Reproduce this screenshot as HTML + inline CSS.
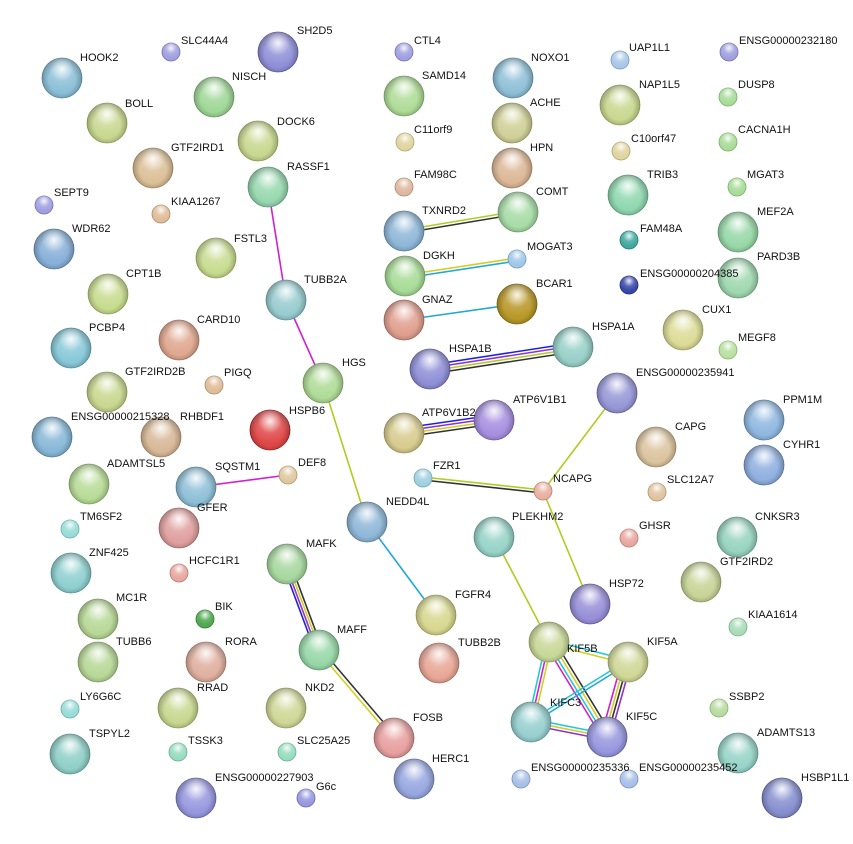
<!DOCTYPE html>
<html><head><meta charset="utf-8"><style>
html,body{margin:0;padding:0;background:#fff;}
svg{display:block;}
text{font-family:"Liberation Sans",sans-serif;font-size:11px;fill:#111;}
</style></head><body>
<svg width="853" height="844" viewBox="0 0 853 844" xmlns="http://www.w3.org/2000/svg">
<defs>
<radialGradient id="gl" cx="50%" cy="28%" r="55%"><stop offset="0" stop-color="#fff" stop-opacity="0.9"/><stop offset="0.55" stop-color="#fff" stop-opacity="0.15"/><stop offset="1" stop-color="#fff" stop-opacity="0"/></radialGradient>
<radialGradient id="sh" cx="50%" cy="55%" r="55%"><stop offset="0.6" stop-color="#000" stop-opacity="0"/><stop offset="1" stop-color="#000" stop-opacity="0.3"/></radialGradient>
</defs>
<!-- edges -->
<g fill="none" stroke-width="1.6">
<line x1="268" y1="187" x2="286" y2="300" stroke="#d020d0"/>
<line x1="286" y1="300" x2="323" y2="383" stroke="#d020d0"/>
<line x1="323" y1="383" x2="367" y2="522" stroke="#b0cc20"/>
<line x1="367" y1="522" x2="436" y2="615" stroke="#20a8d8"/>
<line x1="196" y1="487" x2="288" y2="475" stroke="#d020d0"/>
<line x1="404" y1="230" x2="518" y2="211" stroke="#b0cc20"/>
<line x1="404" y1="233" x2="518" y2="214" stroke="#333"/>
<line x1="405" y1="275" x2="517" y2="258" stroke="#d0d020"/>
<line x1="405" y1="278" x2="517" y2="261" stroke="#20a8d8"/>
<line x1="404" y1="320" x2="517" y2="304" stroke="#20a8d8"/>
<line x1="430" y1="365" x2="573" y2="343" stroke="#2020e0"/>
<line x1="430" y1="368" x2="573" y2="346" stroke="#9030d0"/>
<line x1="430" y1="371" x2="573" y2="349" stroke="#b0cc20"/>
<line x1="430" y1="374" x2="573" y2="352" stroke="#333"/>
<line x1="404" y1="428" x2="494" y2="415" stroke="#2020e0"/>
<line x1="404" y1="431" x2="494" y2="418" stroke="#9030d0"/>
<line x1="404" y1="434" x2="494" y2="421" stroke="#d0d020"/>
<line x1="404" y1="437" x2="494" y2="424" stroke="#333"/>
<line x1="423" y1="477" x2="543" y2="490" stroke="#b0cc20"/>
<line x1="423" y1="480" x2="543" y2="493" stroke="#333"/>
<line x1="543" y1="491" x2="617" y2="393" stroke="#b0cc20"/>
<line x1="543" y1="491" x2="590" y2="604" stroke="#b0cc20"/>
<line x1="494" y1="537" x2="549" y2="642" stroke="#b0cc20"/>
<line x1="283" y1="565" x2="315" y2="651" stroke="#2020e0"/>
<line x1="285.5" y1="564.5" x2="317.5" y2="650.5" stroke="#9030d0"/>
<line x1="288" y1="564" x2="320" y2="650" stroke="#d0d020"/>
<line x1="290.5" y1="563.5" x2="322.5" y2="649.5" stroke="#333"/>
<line x1="318" y1="651" x2="393" y2="739" stroke="#d0d020"/>
<line x1="321" y1="649" x2="396" y2="737" stroke="#333"/>
<!-- KIF cluster -->
<line x1="549" y1="640" x2="628" y2="660" stroke="#20c8d8"/>
<line x1="549" y1="644" x2="628" y2="664" stroke="#d0d020"/>
<line x1="546" y1="642" x2="528" y2="722" stroke="#20c8d8"/>
<line x1="549" y1="642" x2="531" y2="722" stroke="#d020d0"/>
<line x1="552" y1="642" x2="534" y2="722" stroke="#d0d020"/>
<line x1="545" y1="644" x2="603" y2="739" stroke="#d020d0"/>
<line x1="548" y1="643" x2="606" y2="738" stroke="#20c8d8"/>
<line x1="551" y1="641" x2="609" y2="736" stroke="#d0d020"/>
<line x1="554" y1="640" x2="612" y2="735" stroke="#333"/>
<line x1="622" y1="661" x2="601" y2="736" stroke="#d020d0"/>
<line x1="625" y1="662" x2="604" y2="737" stroke="#d0d020"/>
<line x1="628" y1="662" x2="607" y2="737" stroke="#333"/>
<line x1="631" y1="663" x2="610" y2="738" stroke="#9030d0"/>
<line x1="628" y1="660" x2="531" y2="720" stroke="#20c8d8"/>
<line x1="628" y1="664" x2="531" y2="724" stroke="#20a8d8"/>
<line x1="531" y1="719" x2="607" y2="734" stroke="#20c8d8"/>
<line x1="531" y1="722" x2="607" y2="737" stroke="#d0d020"/>
<line x1="531" y1="725" x2="607" y2="740" stroke="#9030d0"/>
</g>
<!-- nodes -->
<g stroke-width="0.8">
<circle cx="62" cy="78" r="20" fill="#8cc0d8" stroke="#6090a8"/>
<circle cx="171" cy="52" r="9" fill="#a0a0e0" stroke="#7070b0"/>
<circle cx="278" cy="52" r="20" fill="#9090d8" stroke="#6060a8"/>
<circle cx="214" cy="97" r="20" fill="#a0d898" stroke="#70a868"/>
<circle cx="107" cy="123" r="20" fill="#c8d890" stroke="#98a860"/>
<circle cx="258" cy="141" r="20" fill="#c8d890" stroke="#98a860"/>
<circle cx="153" cy="168" r="20" fill="#dcc098" stroke="#a89068"/>
<circle cx="44" cy="205" r="9" fill="#a0a0e0" stroke="#7070b0"/>
<circle cx="161" cy="214" r="9" fill="#e0bc98" stroke="#a88c68"/>
<circle cx="268" cy="187" r="20" fill="#98d8b0" stroke="#68a880"/>
<circle cx="54" cy="249" r="20" fill="#88b0d8" stroke="#5880a8"/>
<circle cx="216" cy="258" r="20" fill="#c8dc90" stroke="#98ac60"/>
<circle cx="108" cy="294" r="20" fill="#c8dc90" stroke="#98ac60"/>
<circle cx="286" cy="300" r="20" fill="#98ccd0" stroke="#689ca0"/>
<circle cx="179" cy="340" r="20" fill="#e0a890" stroke="#b07860"/>
<circle cx="71" cy="348" r="20" fill="#88c8d8" stroke="#5898a8"/>
<circle cx="107" cy="392" r="20" fill="#c8d890" stroke="#98a860"/>
<circle cx="214" cy="385" r="9" fill="#e0bc98" stroke="#a88c68"/>
<circle cx="323" cy="383" r="20" fill="#b0dc98" stroke="#80ac68"/>
<circle cx="270" cy="430" r="20" fill="#e04848" stroke="#a02020"/>
<circle cx="161" cy="437" r="20" fill="#d8b898" stroke="#a88868"/>
<circle cx="52" cy="437" r="20" fill="#88b8d8" stroke="#5888a8"/>
<circle cx="89" cy="484" r="20" fill="#b8dc98" stroke="#88ac68"/>
<circle cx="196" cy="487" r="20" fill="#90c0d8" stroke="#6090a8"/>
<circle cx="288" cy="475" r="9" fill="#e0c8a0" stroke="#a89870"/>
<circle cx="70" cy="529" r="9" fill="#98dcd8" stroke="#68aca8"/>
<circle cx="179" cy="528" r="20" fill="#e0a0a0" stroke="#b07070"/>
<circle cx="367" cy="522" r="20" fill="#90b8d8" stroke="#6088a8"/>
<circle cx="71" cy="573" r="20" fill="#90d0d0" stroke="#60a0a0"/>
<circle cx="179" cy="573" r="9" fill="#e8a8a0" stroke="#b07870"/>
<circle cx="287" cy="564" r="20" fill="#a8d8a0" stroke="#78a870"/>
<circle cx="98" cy="619" r="20" fill="#b8d898" stroke="#88a868"/>
<circle cx="205" cy="619" r="9" fill="#50a850" stroke="#307830"/>
<circle cx="436" cy="615" r="20" fill="#d8d890" stroke="#a8a860"/>
<circle cx="98" cy="662" r="20" fill="#b8d898" stroke="#88a868"/>
<circle cx="206" cy="662" r="20" fill="#e0b0a0" stroke="#b08070"/>
<circle cx="319" cy="650" r="20" fill="#98d8a8" stroke="#68a878"/>
<circle cx="439" cy="663" r="20" fill="#e8a898" stroke="#b87868"/>
<circle cx="70" cy="709" r="9" fill="#98dcd8" stroke="#68aca8"/>
<circle cx="178" cy="708" r="20" fill="#c8d890" stroke="#98a860"/>
<circle cx="286" cy="708" r="20" fill="#d0d898" stroke="#a0a868"/>
<circle cx="394" cy="738" r="20" fill="#e8a0a0" stroke="#b87070"/>
<circle cx="70" cy="754" r="20" fill="#90d0c8" stroke="#60a098"/>
<circle cx="178" cy="752" r="9" fill="#98dcc0" stroke="#68ac90"/>
<circle cx="287" cy="752" r="9" fill="#98dcc0" stroke="#68ac90"/>
<circle cx="414" cy="779" r="20" fill="#98a8e0" stroke="#6878b0"/>
<circle cx="196" cy="798" r="20" fill="#9898e0" stroke="#6868b0"/>
<circle cx="306" cy="798" r="9" fill="#9898e0" stroke="#6868b0"/>
<circle cx="404" cy="52" r="9" fill="#a0a0e0" stroke="#7070b0"/>
<circle cx="513" cy="78" r="20" fill="#90c0d8" stroke="#6090a8"/>
<circle cx="404" cy="96" r="20" fill="#b0dc98" stroke="#80ac68"/>
<circle cx="512" cy="123" r="20" fill="#d0d098" stroke="#a0a068"/>
<circle cx="405" cy="142" r="9" fill="#e0d4a0" stroke="#a8a470"/>
<circle cx="512" cy="168" r="20" fill="#dcb898" stroke="#ac8868"/>
<circle cx="404" cy="187" r="9" fill="#e0b8a0" stroke="#a88870"/>
<circle cx="518" cy="212" r="20" fill="#a8dca8" stroke="#78ac78"/>
<circle cx="404" cy="231" r="20" fill="#90b8d8" stroke="#6088a8"/>
<circle cx="405" cy="276" r="20" fill="#a8dc98" stroke="#78ac68"/>
<circle cx="517" cy="259" r="9" fill="#a0c8e8" stroke="#7098b8"/>
<circle cx="404" cy="320" r="20" fill="#e0a090" stroke="#b07060"/>
<circle cx="517" cy="304" r="20" fill="#b89828" stroke="#887010"/>
<circle cx="430" cy="369" r="20" fill="#9090d8" stroke="#6060a8"/>
<circle cx="573" cy="347" r="20" fill="#98d0c8" stroke="#68a098"/>
<circle cx="404" cy="433" r="20" fill="#d8cc90" stroke="#a89c60"/>
<circle cx="494" cy="420" r="20" fill="#a890e0" stroke="#7860b0"/>
<circle cx="423" cy="478" r="9" fill="#a0d0e0" stroke="#70a0b0"/>
<circle cx="543" cy="491" r="9" fill="#e8b0a0" stroke="#b88070"/>
<circle cx="494" cy="537" r="20" fill="#98d4c8" stroke="#68a498"/>
<circle cx="590" cy="604" r="20" fill="#9890d8" stroke="#6860a8"/>
<circle cx="549" cy="642" r="20" fill="#c8d898" stroke="#98a868"/>
<circle cx="628" cy="662" r="20" fill="#d0d898" stroke="#a0a868"/>
<circle cx="607" cy="737" r="20" fill="#9898e0" stroke="#6868b0"/>
<circle cx="531" cy="722" r="20" fill="#98d0d0" stroke="#68a0a0"/>
<circle cx="521" cy="779" r="9" fill="#a8c0e8" stroke="#7890b8"/>
<circle cx="629" cy="779" r="9" fill="#a8c0e8" stroke="#7890b8"/>
<circle cx="620" cy="60" r="9" fill="#a8c8e8" stroke="#7898b8"/>
<circle cx="729" cy="52" r="9" fill="#a0a0e0" stroke="#7070b0"/>
<circle cx="620" cy="105" r="20" fill="#c8d890" stroke="#98a860"/>
<circle cx="728" cy="97" r="9" fill="#a8dc98" stroke="#78ac68"/>
<circle cx="621" cy="151" r="9" fill="#e0d4a0" stroke="#a8a470"/>
<circle cx="728" cy="142" r="9" fill="#a8dc98" stroke="#78ac68"/>
<circle cx="628" cy="195" r="20" fill="#90d8b0" stroke="#60a880"/>
<circle cx="737" cy="187" r="9" fill="#a8dc98" stroke="#78ac68"/>
<circle cx="738" cy="232" r="20" fill="#98d8a8" stroke="#68a878"/>
<circle cx="629" cy="240" r="9" fill="#40a8a0" stroke="#207870"/>
<circle cx="738" cy="278" r="20" fill="#a0d8b0" stroke="#70a880"/>
<circle cx="629" cy="285" r="9" fill="#3848a8" stroke="#202878"/>
<circle cx="683" cy="330" r="20" fill="#dcdc98" stroke="#acac68"/>
<circle cx="728" cy="350" r="9" fill="#b8e0a0" stroke="#88b070"/>
<circle cx="617" cy="393" r="20" fill="#9898d8" stroke="#6868a8"/>
<circle cx="764" cy="420" r="20" fill="#90b8e0" stroke="#6088b0"/>
<circle cx="656" cy="447" r="20" fill="#dcc4a0" stroke="#ac9470"/>
<circle cx="764" cy="465" r="20" fill="#90b0e0" stroke="#6080b0"/>
<circle cx="657" cy="492" r="9" fill="#e0c4a0" stroke="#a89470"/>
<circle cx="629" cy="538" r="9" fill="#e8a8a0" stroke="#b87870"/>
<circle cx="737" cy="537" r="20" fill="#98d4c0" stroke="#68a490"/>
<circle cx="701" cy="582" r="20" fill="#c8d498" stroke="#98a468"/>
<circle cx="738" cy="627" r="9" fill="#a8dcb8" stroke="#78ac88"/>
<circle cx="719" cy="708" r="9" fill="#b8dca0" stroke="#88ac70"/>
<circle cx="738" cy="753" r="20" fill="#98d4c8" stroke="#68a498"/>
<circle cx="782" cy="798" r="20" fill="#8890d0" stroke="#5860a0"/>
</g>
<!-- gloss overlays -->
<g fill="url(#sh)">
<circle cx="62" cy="78" r="20"/><circle cx="278" cy="52" r="20"/><circle cx="214" cy="97" r="20"/><circle cx="107" cy="123" r="20"/><circle cx="258" cy="141" r="20"/><circle cx="153" cy="168" r="20"/><circle cx="268" cy="187" r="20"/><circle cx="54" cy="249" r="20"/><circle cx="216" cy="258" r="20"/><circle cx="108" cy="294" r="20"/><circle cx="286" cy="300" r="20"/><circle cx="179" cy="340" r="20"/><circle cx="71" cy="348" r="20"/><circle cx="107" cy="392" r="20"/><circle cx="323" cy="383" r="20"/><circle cx="270" cy="430" r="20"/><circle cx="161" cy="437" r="20"/><circle cx="52" cy="437" r="20"/><circle cx="89" cy="484" r="20"/><circle cx="196" cy="487" r="20"/><circle cx="179" cy="528" r="20"/><circle cx="367" cy="522" r="20"/><circle cx="71" cy="573" r="20"/><circle cx="287" cy="564" r="20"/><circle cx="98" cy="619" r="20"/><circle cx="436" cy="615" r="20"/><circle cx="98" cy="662" r="20"/><circle cx="206" cy="662" r="20"/><circle cx="319" cy="650" r="20"/><circle cx="439" cy="663" r="20"/><circle cx="178" cy="708" r="20"/><circle cx="286" cy="708" r="20"/><circle cx="394" cy="738" r="20"/><circle cx="70" cy="754" r="20"/><circle cx="414" cy="779" r="20"/><circle cx="196" cy="798" r="20"/><circle cx="513" cy="78" r="20"/><circle cx="404" cy="96" r="20"/><circle cx="512" cy="123" r="20"/><circle cx="512" cy="168" r="20"/><circle cx="518" cy="212" r="20"/><circle cx="404" cy="231" r="20"/><circle cx="405" cy="276" r="20"/><circle cx="404" cy="320" r="20"/><circle cx="517" cy="304" r="20"/><circle cx="430" cy="369" r="20"/><circle cx="573" cy="347" r="20"/><circle cx="404" cy="433" r="20"/><circle cx="494" cy="420" r="20"/><circle cx="494" cy="537" r="20"/><circle cx="590" cy="604" r="20"/><circle cx="549" cy="642" r="20"/><circle cx="628" cy="662" r="20"/><circle cx="607" cy="737" r="20"/><circle cx="531" cy="722" r="20"/><circle cx="620" cy="105" r="20"/><circle cx="628" cy="195" r="20"/><circle cx="738" cy="232" r="20"/><circle cx="738" cy="278" r="20"/><circle cx="683" cy="330" r="20"/><circle cx="617" cy="393" r="20"/><circle cx="764" cy="420" r="20"/><circle cx="656" cy="447" r="20"/><circle cx="764" cy="465" r="20"/><circle cx="737" cy="537" r="20"/><circle cx="701" cy="582" r="20"/><circle cx="738" cy="753" r="20"/><circle cx="782" cy="798" r="20"/>
</g>
<g fill="url(#gl)">
<circle cx="62" cy="78" r="20"/><circle cx="278" cy="52" r="20"/><circle cx="214" cy="97" r="20"/><circle cx="107" cy="123" r="20"/><circle cx="258" cy="141" r="20"/><circle cx="153" cy="168" r="20"/><circle cx="268" cy="187" r="20"/><circle cx="54" cy="249" r="20"/><circle cx="216" cy="258" r="20"/><circle cx="108" cy="294" r="20"/><circle cx="286" cy="300" r="20"/><circle cx="179" cy="340" r="20"/><circle cx="71" cy="348" r="20"/><circle cx="107" cy="392" r="20"/><circle cx="323" cy="383" r="20"/><circle cx="270" cy="430" r="20"/><circle cx="161" cy="437" r="20"/><circle cx="52" cy="437" r="20"/><circle cx="89" cy="484" r="20"/><circle cx="196" cy="487" r="20"/><circle cx="179" cy="528" r="20"/><circle cx="367" cy="522" r="20"/><circle cx="71" cy="573" r="20"/><circle cx="287" cy="564" r="20"/><circle cx="98" cy="619" r="20"/><circle cx="436" cy="615" r="20"/><circle cx="98" cy="662" r="20"/><circle cx="206" cy="662" r="20"/><circle cx="319" cy="650" r="20"/><circle cx="439" cy="663" r="20"/><circle cx="178" cy="708" r="20"/><circle cx="286" cy="708" r="20"/><circle cx="394" cy="738" r="20"/><circle cx="70" cy="754" r="20"/><circle cx="414" cy="779" r="20"/><circle cx="196" cy="798" r="20"/><circle cx="513" cy="78" r="20"/><circle cx="404" cy="96" r="20"/><circle cx="512" cy="123" r="20"/><circle cx="512" cy="168" r="20"/><circle cx="518" cy="212" r="20"/><circle cx="404" cy="231" r="20"/><circle cx="405" cy="276" r="20"/><circle cx="404" cy="320" r="20"/><circle cx="517" cy="304" r="20"/><circle cx="430" cy="369" r="20"/><circle cx="573" cy="347" r="20"/><circle cx="404" cy="433" r="20"/><circle cx="494" cy="420" r="20"/><circle cx="494" cy="537" r="20"/><circle cx="590" cy="604" r="20"/><circle cx="549" cy="642" r="20"/><circle cx="628" cy="662" r="20"/><circle cx="607" cy="737" r="20"/><circle cx="531" cy="722" r="20"/><circle cx="620" cy="105" r="20"/><circle cx="628" cy="195" r="20"/><circle cx="738" cy="232" r="20"/><circle cx="738" cy="278" r="20"/><circle cx="683" cy="330" r="20"/><circle cx="617" cy="393" r="20"/><circle cx="764" cy="420" r="20"/><circle cx="656" cy="447" r="20"/><circle cx="764" cy="465" r="20"/><circle cx="737" cy="537" r="20"/><circle cx="701" cy="582" r="20"/><circle cx="738" cy="753" r="20"/><circle cx="782" cy="798" r="20"/>
<circle cx="171" cy="52" r="9"/><circle cx="44" cy="205" r="9"/><circle cx="161" cy="214" r="9"/><circle cx="214" cy="385" r="9"/><circle cx="288" cy="475" r="9"/><circle cx="70" cy="529" r="9"/><circle cx="179" cy="573" r="9"/><circle cx="205" cy="619" r="9"/><circle cx="70" cy="709" r="9"/><circle cx="178" cy="752" r="9"/><circle cx="287" cy="752" r="9"/><circle cx="306" cy="798" r="9"/><circle cx="404" cy="52" r="9"/><circle cx="405" cy="142" r="9"/><circle cx="404" cy="187" r="9"/><circle cx="517" cy="259" r="9"/><circle cx="423" cy="478" r="9"/><circle cx="543" cy="491" r="9"/><circle cx="521" cy="779" r="9"/><circle cx="629" cy="779" r="9"/><circle cx="620" cy="60" r="9"/><circle cx="729" cy="52" r="9"/><circle cx="728" cy="97" r="9"/><circle cx="621" cy="151" r="9"/><circle cx="728" cy="142" r="9"/><circle cx="737" cy="187" r="9"/><circle cx="629" cy="240" r="9"/><circle cx="629" cy="285" r="9"/><circle cx="728" cy="350" r="9"/><circle cx="657" cy="492" r="9"/><circle cx="629" cy="538" r="9"/><circle cx="738" cy="627" r="9"/><circle cx="719" cy="708" r="9"/>
</g>
<!-- labels -->
<g>
<text x="80" y="61">HOOK2</text>
<text x="181" y="44">SLC44A4</text>
<text x="297" y="34">SH2D5</text>
<text x="232" y="80">NISCH</text>
<text x="125" y="107">BOLL</text>
<text x="277" y="125">DOCK6</text>
<text x="171" y="151">GTF2IRD1</text>
<text x="54" y="196">SEPT9</text>
<text x="171" y="205">KIAA1267</text>
<text x="287" y="170">RASSF1</text>
<text x="72" y="232">WDR62</text>
<text x="234" y="242">FSTL3</text>
<text x="126" y="277">CPT1B</text>
<text x="304" y="283">TUBB2A</text>
<text x="197" y="323">CARD10</text>
<text x="89" y="331">PCBP4</text>
<text x="125" y="375">GTF2IRD2B</text>
<text x="224" y="376">PIGQ</text>
<text x="342" y="366">HGS</text>
<text x="289" y="414">HSPB6</text>
<text x="180" y="420">RHBDF1</text>
<text x="71" y="420">ENSG00000215328</text>
<text x="107" y="467">ADAMTSL5</text>
<text x="215" y="470">SQSTM1</text>
<text x="298" y="466">DEF8</text>
<text x="80" y="520">TM6SF2</text>
<text x="197" y="511">GFER</text>
<text x="386" y="505">NEDD4L</text>
<text x="89" y="556">ZNF425</text>
<text x="189" y="564">HCFC1R1</text>
<text x="306" y="547">MAFK</text>
<text x="116" y="601">MC1R</text>
<text x="215" y="610">BIK</text>
<text x="455" y="598">FGFR4</text>
<text x="116" y="645">TUBB6</text>
<text x="225" y="645">RORA</text>
<text x="337" y="633">MAFF</text>
<text x="458" y="646">TUBB2B</text>
<text x="80" y="700">LY6G6C</text>
<text x="197" y="691">RRAD</text>
<text x="305" y="691">NKD2</text>
<text x="413" y="721">FOSB</text>
<text x="89" y="737">TSPYL2</text>
<text x="188" y="744">TSSK3</text>
<text x="297" y="744">SLC25A25</text>
<text x="432" y="762">HERC1</text>
<text x="215" y="781">ENSG00000227903</text>
<text x="316" y="790">G6c</text>
<text x="414" y="44">CTL4</text>
<text x="531" y="61">NOXO1</text>
<text x="422" y="79">SAMD14</text>
<text x="530" y="106">ACHE</text>
<text x="414" y="133">C11orf9</text>
<text x="530" y="151">HPN</text>
<text x="414" y="178">FAM98C</text>
<text x="536" y="195">COMT</text>
<text x="422" y="214">TXNRD2</text>
<text x="423" y="259">DGKH</text>
<text x="527" y="250">MOGAT3</text>
<text x="422" y="303">GNAZ</text>
<text x="536" y="287">BCAR1</text>
<text x="449" y="352">HSPA1B</text>
<text x="592" y="330">HSPA1A</text>
<text x="422" y="416">ATP6V1B2</text>
<text x="513" y="403">ATP6V1B1</text>
<text x="433" y="469">FZR1</text>
<text x="553" y="482">NCAPG</text>
<text x="512" y="520">PLEKHM2</text>
<text x="609" y="587">HSP72</text>
<text x="567" y="652">KIF5B</text>
<text x="647" y="645">KIF5A</text>
<text x="626" y="720">KIF5C</text>
<text x="550" y="706">KIFC3</text>
<text x="531" y="771">ENSG00000235336</text>
<text x="639" y="771">ENSG00000235452</text>
<text x="629" y="51">UAP1L1</text>
<text x="739" y="44">ENSG00000232180</text>
<text x="639" y="88">NAP1L5</text>
<text x="738" y="88">DUSP8</text>
<text x="631" y="142">C10orf47</text>
<text x="738" y="133">CACNA1H</text>
<text x="647" y="178">TRIB3</text>
<text x="747" y="178">MGAT3</text>
<text x="757" y="215">MEF2A</text>
<text x="640" y="232">FAM48A</text>
<text x="757" y="260">PARD3B</text>
<text x="640" y="277">ENSG00000204385</text>
<text x="702" y="313">CUX1</text>
<text x="738" y="341">MEGF8</text>
<text x="636" y="376">ENSG00000235941</text>
<text x="783" y="403">PPM1M</text>
<text x="675" y="430">CAPG</text>
<text x="783" y="448">CYHR1</text>
<text x="667" y="483">SLC12A7</text>
<text x="639" y="529">GHSR</text>
<text x="755" y="520">CNKSR3</text>
<text x="720" y="565">GTF2IRD2</text>
<text x="748" y="618">KIAA1614</text>
<text x="729" y="700">SSBP2</text>
<text x="757" y="736">ADAMTS13</text>
<text x="801" y="781">HSBP1L1</text>
</g>
</svg>
</body></html>
